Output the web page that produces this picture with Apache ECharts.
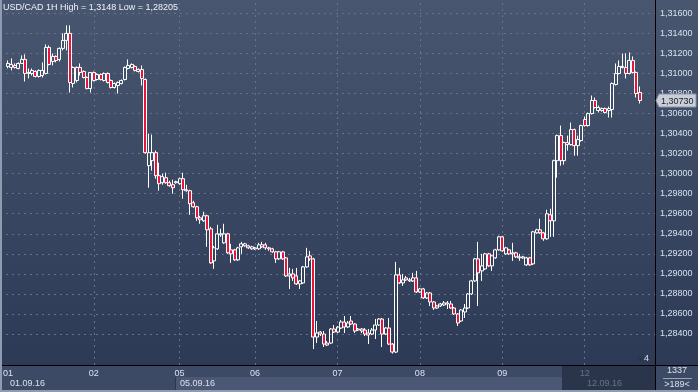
<!DOCTYPE html>
<html><head><meta charset="utf-8">
<script src="https://cdn.jsdelivr.net/npm/echarts@6/dist/echarts.min.js"></script>
<style>html,body{margin:0;padding:0;background:#2e3b56}#c{width:698px;height:392px}</style>
</head><body><div id="c"></div>
<script>
const openP = [
1.3107,1.3106,1.3108,1.3105,1.3110,1.3114,1.3100,1.3100,1.3102,1.3097,
1.3098,1.3100,1.3126,1.3112,1.3117,1.3114,1.3125,1.3133,1.3140,1.3090,
1.3093,1.3106,1.3102,1.3096,1.3085,1.3101,1.3094,1.3099,1.3093,1.3100,
1.3093,1.3086,1.3088,1.3090,1.3094,1.3105,1.3106,1.3107,1.3102,1.3104,
1.3094,1.3008,1.3013,1.3021,1.2998,1.2991,1.2996,1.2991,1.2989,1.2991,
1.2990,1.2995,1.2983,1.2983,1.2971,1.2967,1.2956,1.2953,1.2958,1.2945,
1.2913,1.2925,1.2939,1.2931,1.2940,1.2924,1.2924,1.2914,1.2927,1.2928,
1.2928,1.2925,1.2925,1.2925,1.2927,1.2929,1.2925,1.2925,1.2922,1.2915,
1.2922,1.2916,1.2898,1.2900,1.2898,1.2890,1.2891,1.2907,1.2918,1.2915,
1.2837,1.2842,1.2840,1.2831,1.2831,1.2845,1.2842,1.2846,1.2852,1.2847,
1.2853,1.2850,1.2844,1.2845,1.2844,1.2841,1.2840,1.2844,1.2849,1.2855,
1.2840,1.2846,1.2830,1.2822,1.2899,1.2891,1.2896,1.2893,1.2893,1.2896,
1.2882,1.2885,1.2876,1.2881,1.2872,1.2866,1.2868,1.2869,1.2870,1.2870,
1.2866,1.2860,1.2853,1.2862,1.2866,1.2880,1.2893,1.2915,1.2903,1.2905,
1.2920,1.2908,1.2916,1.2924,1.2937,1.2920,1.2924,1.2920,1.2921,1.2916,
1.2916,1.2909,1.2916,1.2910,1.2941,1.2944,1.2941,1.2935,1.2959,1.2953,
1.3013,1.3038,1.3013,1.3031,1.3029,1.3044,1.3028,1.3033,1.3054,1.3048,
1.3060,1.3073,1.3063,1.3063,1.3065,1.3063,1.3064,1.3089,1.3100,1.3106,
1.3106,1.3100,1.3113,1.3101,1.3081];
const closeP = [
1.3110,1.3109,1.3106,1.3110,1.3114,1.3100,1.3101,1.3103,1.3097,1.3103,
1.3103,1.3126,1.3109,1.3117,1.3113,1.3125,1.3133,1.3140,1.3091,1.3106,
1.3106,1.3101,1.3096,1.3085,1.3101,1.3093,1.3099,1.3094,1.3100,1.3091,
1.3086,1.3090,1.3091,1.3093,1.3106,1.3108,1.3109,1.3103,1.3104,1.3095,
1.3021,1.3021,1.3021,1.2998,1.2990,1.2997,1.2991,1.2988,1.2986,1.2992,
1.2995,1.2984,1.2984,1.2970,1.2967,1.2956,1.2954,1.2958,1.2944,1.2911,
1.2926,1.2940,1.2940,1.2940,1.2921,1.2920,1.2914,1.2926,1.2930,1.2930,
1.2926,1.2927,1.2926,1.2929,1.2929,1.2926,1.2926,1.2922,1.2915,1.2922,
1.2915,1.2898,1.2900,1.2896,1.2890,1.2893,1.2907,1.2917,1.2915,1.2837,
1.2841,1.2840,1.2830,1.2829,1.2845,1.2842,1.2847,1.2852,1.2847,1.2851,
1.2850,1.2843,1.2845,1.2843,1.2840,1.2839,1.2844,1.2849,1.2855,1.2840,
1.2846,1.2830,1.2822,1.2899,1.2891,1.2894,1.2894,1.2894,1.2896,1.2882,
1.2885,1.2876,1.2881,1.2872,1.2866,1.2868,1.2870,1.2871,1.2871,1.2866,
1.2860,1.2851,1.2864,1.2866,1.2880,1.2893,1.2915,1.2901,1.2908,1.2920,
1.2908,1.2918,1.2924,1.2937,1.2923,1.2926,1.2920,1.2921,1.2917,1.2917,
1.2917,1.2916,1.2909,1.2942,1.2944,1.2941,1.2935,1.2960,1.2953,1.3013,
1.3038,1.3013,1.3031,1.3029,1.3044,1.3028,1.3034,1.3048,1.3048,1.3060,
1.3073,1.3066,1.3066,1.3065,1.3061,1.3065,1.3090,1.3100,1.3107,1.3107,
1.3100,1.3113,1.3101,1.3080,1.3073];
const lowP = [
1.3105,1.3103,1.3105,1.3104,1.3110,1.3092,1.3095,1.3098,1.3096,1.3096,
1.3096,1.3099,1.3108,1.3108,1.3111,1.3112,1.3123,1.3123,1.3081,1.3086,
1.3091,1.3098,1.3095,1.3084,1.3081,1.3092,1.3093,1.3093,1.3092,1.3090,
1.3085,1.3085,1.3080,1.3089,1.3093,1.3104,1.3105,1.3102,1.3101,1.3088,
1.3020,1.2986,1.3003,1.2995,1.2983,1.2989,1.2990,1.2987,1.2980,1.2990,
1.2989,1.2975,1.2982,1.2959,1.2966,1.2953,1.2950,1.2952,1.2927,1.2910,
1.2905,1.2924,1.2937,1.2930,1.2920,1.2911,1.2913,1.2913,1.2920,1.2927,
1.2925,1.2924,1.2924,1.2924,1.2926,1.2924,1.2923,1.2921,1.2911,1.2914,
1.2914,1.2897,1.2885,1.2893,1.2889,1.2885,1.2890,1.2906,1.2913,1.2825,
1.2831,1.2838,1.2827,1.2828,1.2830,1.2841,1.2841,1.2845,1.2841,1.2846,
1.2849,1.2841,1.2843,1.2841,1.2838,1.2830,1.2839,1.2835,1.2848,1.2827,
1.2839,1.2829,1.28205,1.2821,1.2890,1.2888,1.2893,1.2892,1.2892,1.2881,
1.2881,1.2875,1.2875,1.2868,1.2864,1.2865,1.2867,1.2868,1.2865,1.2865,
1.2859,1.2848,1.2852,1.2856,1.2865,1.2879,1.2892,1.2868,1.2893,1.2904,
1.2907,1.2903,1.2915,1.2923,1.2922,1.2919,1.2919,1.2913,1.2916,1.2913,
1.2915,1.2908,1.2908,1.2909,1.2940,1.2940,1.2933,1.2934,1.2937,1.2937,
1.2996,1.3008,1.3009,1.3023,1.3028,1.3018,1.3018,1.3032,1.3047,1.3047,
1.3059,1.3065,1.3061,1.3062,1.3060,1.3056,1.3056,1.3088,1.3099,1.3105,
1.3095,1.3099,1.3100,1.3076,1.3070];
const highP = [
1.3113,1.3115,1.3110,1.3111,1.3118,1.3119,1.3105,1.3105,1.3103,1.3104,
1.3111,1.3129,1.3128,1.3120,1.3118,1.3126,1.3140,1.3148,1.3148,1.3107,
1.3107,1.3110,1.3103,1.3097,1.3101,1.3102,1.3100,1.3100,1.3101,1.3101,
1.3094,1.3091,1.3092,1.3094,1.3107,1.3114,1.3110,1.3108,1.3105,1.3108,
1.3095,1.3040,1.3039,1.3023,1.3011,1.3000,1.3001,1.2993,1.2994,1.2993,
1.2996,1.3001,1.2989,1.2984,1.2973,1.2968,1.2958,1.2962,1.2959,1.2947,
1.2928,1.2949,1.2945,1.2950,1.2941,1.2930,1.2925,1.2927,1.2932,1.2931,
1.2929,1.2928,1.2927,1.2931,1.2932,1.2931,1.2927,1.2926,1.2923,1.2923,
1.2923,1.2917,1.2906,1.2905,1.2906,1.2894,1.2908,1.2926,1.2923,1.2916,
1.2853,1.2843,1.2843,1.2833,1.2846,1.2849,1.2848,1.2854,1.2858,1.2853,
1.2858,1.2851,1.2846,1.2846,1.2846,1.2845,1.2846,1.2855,1.2856,1.2856,
1.2847,1.2856,1.2831,1.2912,1.2906,1.2900,1.2898,1.2896,1.2901,1.2903,
1.2886,1.2886,1.2882,1.2882,1.2873,1.2869,1.2871,1.2873,1.2873,1.2873,
1.2867,1.2861,1.2865,1.2870,1.2881,1.2894,1.2916,1.2932,1.2920,1.2921,
1.2921,1.2919,1.2925,1.2938,1.2938,1.2927,1.2925,1.2931,1.2922,1.2920,
1.2918,1.2917,1.2917,1.2943,1.2945,1.2955,1.2942,1.2964,1.2965,1.3014,
1.3039,1.3048,1.3032,1.3038,1.3051,1.3045,1.3038,1.3049,1.3057,1.3061,
1.3078,1.3076,1.3068,1.3066,1.3066,1.3067,1.3091,1.3110,1.3113,1.3120,
1.3120,1.3121,1.3117,1.3102,1.3087];
const dayLabels = ['01','02','05','06','07','08','09','12'];
const dayStart = [0,25,50,72,96,120,144,168];
const dateLabels = ['01.09.16','05.09.16','12.09.16'];
const visibleBars = 189;
const priceMin = 1.284, priceMax = 1.316, priceStep = 0.002;
const titleText = 'USD/CAD 1H High = 1,3148 Low = 1,28205';
const barsInfo = ['1337','>189<','4'];

const FONT = '"Liberation Sans", Arial, sans-serif';
const cats = [];
for (let i = 0; i < visibleBars; i++) {
  const k = dayStart.indexOf(i);
  cats.push(k >= 0 ? dayLabels[k] : '');
}
const candles = openP.map((o, i) => [o, closeP[i], lowP[i], highP[i]]);
const fmt = v => v.toFixed(5).replace('.', ',');

const chart = echarts.init(document.getElementById('c'), null, {renderer: 'canvas'});
const gridCol = '#63728d';
function chrome(extra) {
  const g = [
    {type:'rect', id:'bot', z:-10, shape:{x:0,y:365,width:698,height:27}, style:{fill:'#3d4a65'}},
    {type:'rect', id:'band', z:-9, shape:{x:175,y:377,width:387,height:13}, style:{fill:'#4b5774'}},
    {type:'line', id:'sep', z:-8, shape:{x1:175.5,y1:377,x2:175.5,y2:390}, style:{stroke:'#2b3650',lineWidth:1}},
    {type:'text', id:'d0', z:5, style:{text:dateLabels[0], x:10, y:383.5, fill:'#d9e2ee', font:'9px '+FONT, verticalAlign:'middle'}},
    {type:'text', id:'d1', z:5, style:{text:dateLabels[1], x:180, y:383.5, fill:'#d9e2ee', font:'9px '+FONT, verticalAlign:'middle'}},
    {type:'text', id:'d2', z:5, style:{text:dateLabels[2], x:587, y:383.5, fill:'#d9e2ee', font:'9px '+FONT, verticalAlign:'middle'}},
    {type:'rect', id:'dark', z:50, shape:{x:562,y:366,width:93,height:24}, style:{fill:'rgba(30,38,58,0.62)'}},
    {type:'line', id:'darkL', z:51, shape:{x1:562.5,y1:366,x2:562.5,y2:390}, style:{stroke:'#2a3348',lineWidth:1}},
    {type:'line', id:'hl', z:60, shape:{x1:0,y1:365.5,x2:698,y2:365.5}, style:{stroke:'#000',lineWidth:1}},
    {type:'line', id:'vl', z:60, shape:{x1:655.5,y1:0,x2:655.5,y2:392}, style:{stroke:'#000',lineWidth:1}},
    {type:'rect', id:'lb', z:60, shape:{x:0,y:0,width:2,height:392}, style:{fill:'#8f9cb0'}},
    {type:'rect', id:'bb', z:60, shape:{x:0,y:390,width:698,height:2}, style:{fill:'#8f9cb0'}},
    {type:'text', id:'title', z:60, style:{text:titleText, x:3, y:3, fill:'#eef3fa', font:'9px '+FONT}},
    {type:'text', id:'n1', z:60, style:{text:barsInfo[0], x:677, y:371, fill:'#d9e2ee', font:'9px '+FONT, align:'center', verticalAlign:'middle'}},
    {type:'line', id:'nl', z:60, shape:{x1:663,y1:378.5,x2:692,y2:378.5}, style:{stroke:'#9aa6b8',lineWidth:1}},
    {type:'text', id:'n2', z:60, style:{text:barsInfo[1], x:677, y:384.5, fill:'#d9e2ee', font:'9px '+FONT, align:'center', verticalAlign:'middle'}},
    {type:'polygon', id:'tri', z:60, shape:{points:[[636,361],[639.5,356],[643,361]]}, style:{fill:'#2a3550'}},
    {type:'text', id:'n3', z:60, style:{text:barsInfo[2], x:644, y:358.5, fill:'#d9e2ee', font:'9px '+FONT, verticalAlign:'middle'}}
  ];
  return g.concat(extra || []);
}

chart.setOption({
  animation: false,
  backgroundColor: {type:'linear', x:0, y:0, x2:0, y2:1, colorStops:[{offset:0,color:'#48566f'},{offset:1,color:'#2b3854'}]},
  grid: [
    {left:0, right:43, top:0, bottom:27},
    {left:0, right:43, top:13.3, bottom:58}
  ],
  xAxis: [
    {type:'category', gridIndex:0, data:cats, boundaryGap:true,
     axisLine:{show:false}, axisTick:{show:false}, splitLine:{show:false},
     axisLabel:{interval:0, color:'#d9e2ee', fontSize:9, fontFamily:FONT, margin:4}},
    {type:'value', gridIndex:1, min:0, max:1, show:false}
  ],
  yAxis: [
    {type:'value', gridIndex:0, min:1.28091, max:1.31733, show:false},
    {type:'value', gridIndex:1, min:priceMin, max:priceMax, interval:priceStep, position:'right',
     axisLine:{show:false}, axisTick:{show:false},
     axisLabel:{color:'#d9e2ee', fontSize:9, fontFamily:FONT, margin:5, formatter: fmt},
     splitLine:{show:true, lineStyle:{color:gridCol, type:[2,4], width:1}}}
  ],
  series: [{
    type:'candlestick', xAxisIndex:0, yAxisIndex:0, data:candles, barWidth:3.5, z:3,
    itemStyle:{color:'rgba(0,0,0,0)', color0:'#e8143c', borderColor:'#ffffff', borderColor0:'#ffffff', borderWidth:1},
    markLine:{silent:true, symbol:['none','none'], label:{show:false}, z:1,
      lineStyle:{color:gridCol, type:[2,4], width:1},
      data: dayStart.slice(1).map(i => ({xAxis:i}))}
  }],
  graphic: chrome()
});

const last = closeP[closeP.length - 1];
const py = chart.convertToPixel({xAxisIndex:0, yAxisIndex:0}, [0, last])[1];
chart.setOption({graphic: chrome([
  {type:'polygon', id:'tag', z:70, shape:{points:[[656,py],[659,py-6.5],[696,py-6.5],[696,py+6.5],[659,py+6.5]]}, style:{fill:'#c9ced7', stroke:'#8c96a6', lineWidth:1}},
  {type:'text', id:'tagt', z:71, style:{text:fmt(last), x:661, y:py+0.5, fill:'#1b1f28', font:'9px '+FONT, verticalAlign:'middle'}}
])});
</script></body></html>
